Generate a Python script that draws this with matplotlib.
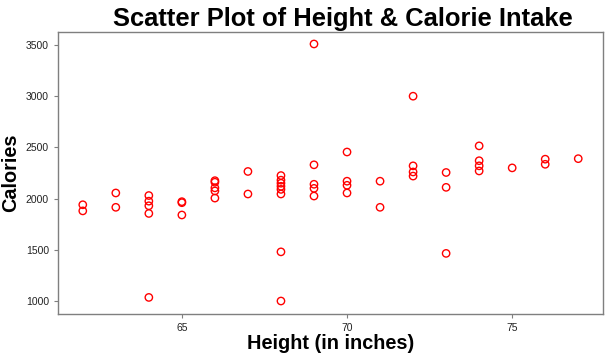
import matplotlib
matplotlib.use("Agg")
import matplotlib.pyplot as plt

plt.rcParams['font.family'] = ['Liberation Sans', 'DejaVu Sans']

# height (inches) and calorie intake
height = [62, 62,
          63, 63,
          64, 64, 64, 64, 64,
          65, 65, 65,
          66, 66, 66, 66, 66,
          67, 67,
          68, 68, 68, 68, 68, 68, 68, 68,
          69, 69, 69, 69, 69,
          70, 70, 70, 70,
          71, 71,
          72, 72, 72, 72,
          73, 73, 73,
          74, 74, 74, 74,
          75,
          76, 76,
          77]
calories = [1940, 1880,
            2055, 1915,
            2030, 1975, 1930, 1855, 1035,
            1970, 1960, 1840,
            2175, 2160, 2105, 2075, 2005,
            2265, 2045,
            2225, 2180, 2150, 2120, 2090, 2045, 1480, 1000,
            3510, 2330, 2140, 2100, 2025,
            2455, 2170, 2130, 2055,
            2170, 1915,
            3000, 2320, 2260, 2220,
            2255, 2110, 1465,
            2515, 2370, 2320, 2270,
            2300,
            2385, 2335,
            2390]

fig = plt.figure(figsize=(6.08, 3.57), dpi=100)
ax = fig.add_axes([0.0954, 0.1204, 0.8964, 0.79])

ax.scatter(height, calories, s=28, facecolors='none', edgecolors='red', linewidths=1.0)

ax.set_xlim(61.25, 77.75)
ax.set_ylim(873, 3627)
ax.set_xticks([65, 70, 75])
ax.set_yticks([1000, 1500, 2000, 2500, 3000, 3500])

for s in ax.spines.values():
    s.set_color('#7f7f7f')
    s.set_linewidth(1.0)
ax.tick_params(colors='#7f7f7f', labelcolor='#222222', labelsize=7.5, length=3, width=0.8)

ax.set_title('Scatter Plot of Height & Calorie Intake', fontsize=18.4, fontweight='bold', pad=4, x=0.522)
ax.set_xlabel('Height (in inches)', fontsize=14.3, fontweight='bold', labelpad=1)
ax.set_ylabel('Calories', fontsize=14.3, fontweight='bold', labelpad=4)

fig.savefig('out.png', dpi=100)
